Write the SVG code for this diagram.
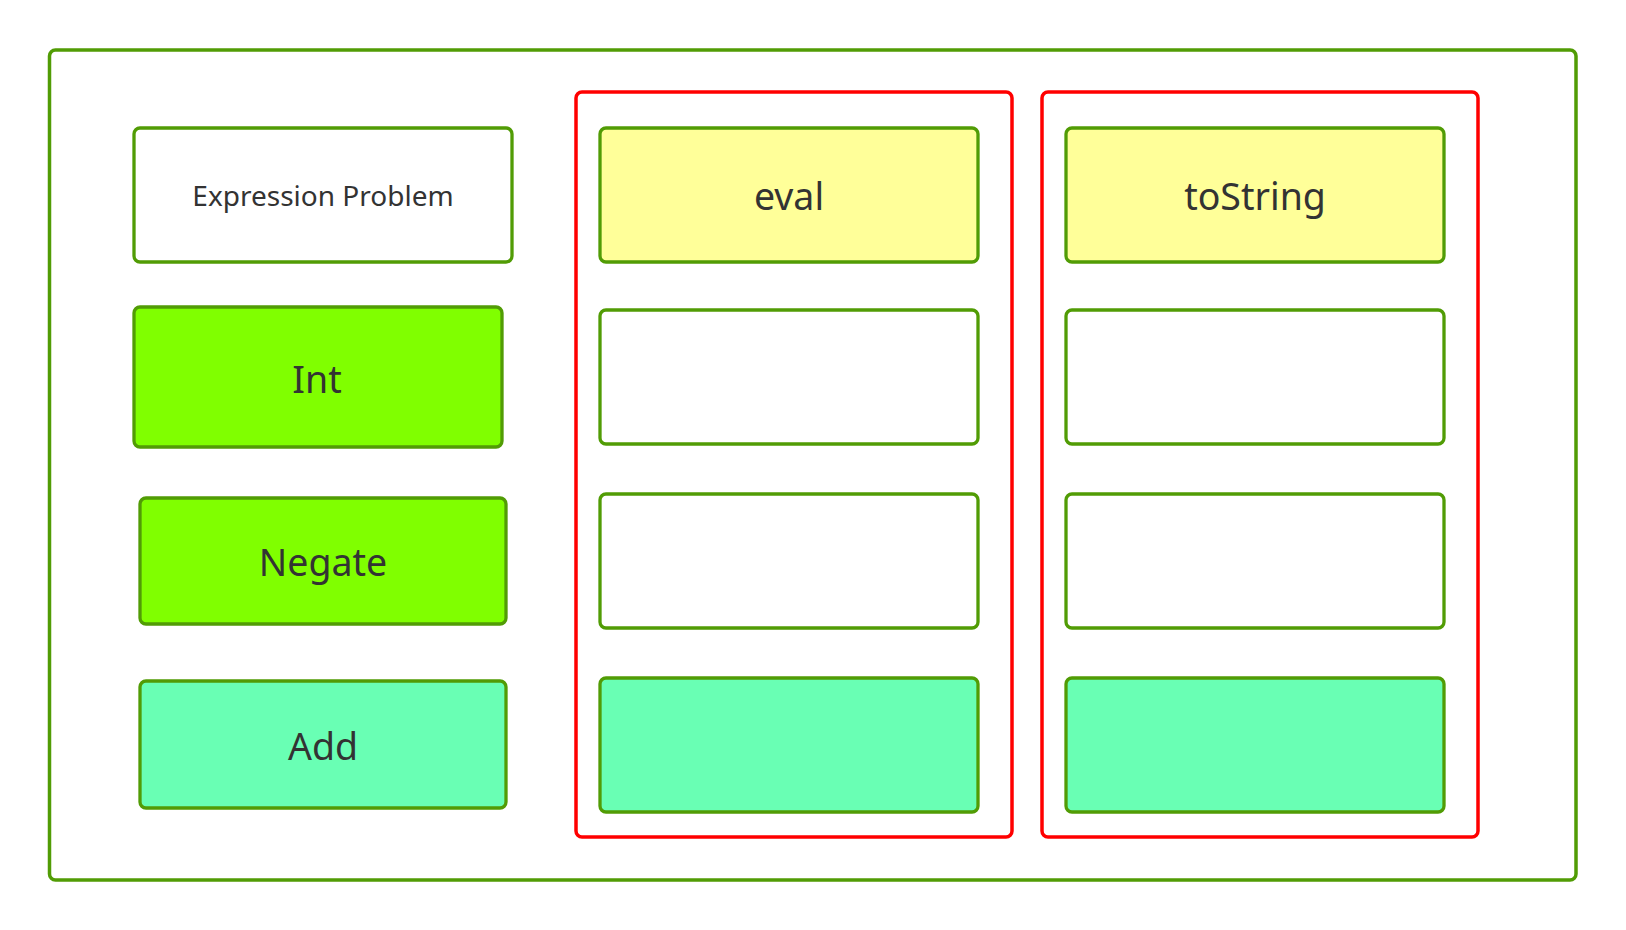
<svg xmlns="http://www.w3.org/2000/svg" width="1626" height="930" viewBox="0 0 1626 930">
<style>
.frame{fill:#ffffff;stroke:#519c05;stroke-width:3.5}
.col{fill:#ffffff;stroke:#ff0000;stroke-width:3.5}
.box{stroke:#519c05;stroke-width:3.3}
.white{fill:#ffffff}
.yellow{fill:#ffff99}
.lime{fill:#80ff00}
.mint{fill:#69ffb4}
.lbl{font-family:"Noto Sans","Open Sans","DejaVu Sans",sans-serif;fill:#333333;text-anchor:middle;font-size:37.5px}
.small{font-size:28px}
</style>
<rect width="1626" height="930" fill="#ffffff"/>
<g id="frame"><rect class="frame" x="49.5" y="50" width="1526.5" height="830" rx="6"/></g>
<g id="col-eval"><rect class="col" x="576" y="92" width="436" height="745" rx="6"/></g>
<g id="col-tostring"><rect class="col" x="1042" y="92" width="436" height="745" rx="6"/></g>
<g id="expression-problem"><rect class="box white" x="134" y="128" width="378" height="134" rx="6"/><text class="lbl small" x="323" y="206">Expression Problem</text></g>
<g id="int"><rect class="box lime" x="134" y="307" width="368" height="140" rx="6"/><text class="lbl" x="317" y="393">Int</text></g>
<g id="negate"><rect class="box lime" x="140" y="498" width="366" height="126" rx="6"/><text class="lbl" x="323" y="576">Negate</text></g>
<g id="add"><rect class="box mint" x="140" y="681" width="366" height="127" rx="6"/><text class="lbl" x="323" y="760">Add</text></g>
<g id="eval"><rect class="box yellow" x="600" y="128" width="378" height="134" rx="6"/><text class="lbl" x="789" y="210">eval</text></g>
<g id="eval-int"><rect class="box white" x="600" y="310" width="378" height="134" rx="6"/></g>
<g id="eval-negate"><rect class="box white" x="600" y="494" width="378" height="134" rx="6"/></g>
<g id="eval-add"><rect class="box mint" x="600" y="678" width="378" height="134" rx="6"/></g>
<g id="tostring"><rect class="box yellow" x="1066" y="128" width="378" height="134" rx="6"/><text class="lbl" x="1255" y="210">toString</text></g>
<g id="tostring-int"><rect class="box white" x="1066" y="310" width="378" height="134" rx="6"/></g>
<g id="tostring-negate"><rect class="box white" x="1066" y="494" width="378" height="134" rx="6"/></g>
<g id="tostring-add"><rect class="box mint" x="1066" y="678" width="378" height="134" rx="6"/></g>
<g id="connectors"></g>
</svg>
